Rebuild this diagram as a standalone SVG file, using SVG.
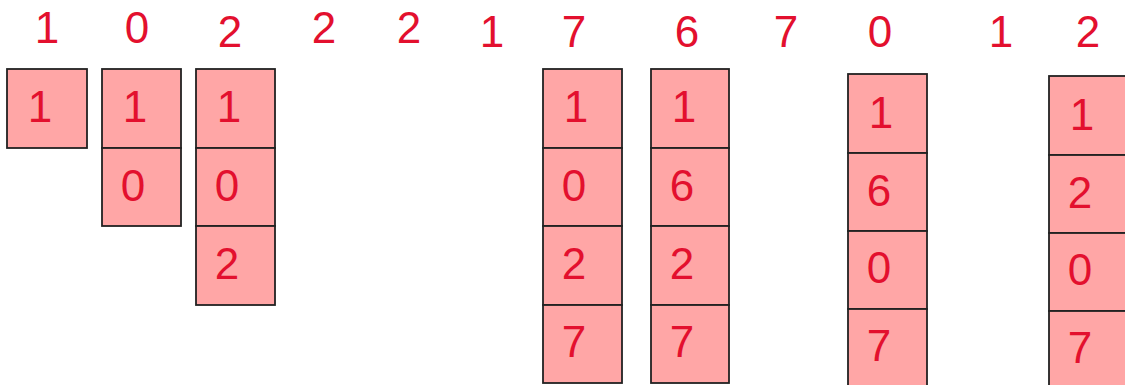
<svg xmlns="http://www.w3.org/2000/svg" width="1125" height="385" viewBox="0 0 1125 385">
<style>
.c{fill:#ffa6a6;stroke:#222222;stroke-width:1.8}
.t{font-family:"Liberation Sans",Arial,sans-serif;font-size:44px;fill:#e3102e;text-anchor:middle}
</style>
<rect width="1125" height="385" fill="#ffffff"/>
<g id="labels" class="t">
<text x="47" y="43">1</text>
<text x="137" y="43">0</text>
<text x="230" y="47">2</text>
<text x="324" y="43">2</text>
<text x="409" y="43">2</text>
<text x="492" y="47">1</text>
<text x="574" y="47">7</text>
<text x="687" y="47">6</text>
<text x="786" y="47">7</text>
<text x="880" y="47">0</text>
<text x="1001" y="47">1</text>
<text x="1088" y="47">2</text>
</g>
<g id="colA">
<g id="A1"><rect class="c" x="7" y="69" width="80" height="79"/><text class="t" x="40" y="122">1</text></g>
</g>
<g id="colB">
<g id="B1"><rect class="c" x="102" y="69" width="79" height="79"/><text class="t" x="135" y="122">1</text></g>
<g id="B2"><rect class="c" x="102" y="148" width="79" height="78"/><text class="t" x="133" y="201">0</text></g>
</g>
<g id="colC">
<g id="C1"><rect class="c" x="196" y="69" width="79" height="79"/><text class="t" x="229" y="122">1</text></g>
<g id="C2"><rect class="c" x="196" y="148" width="79" height="78"/><text class="t" x="227" y="201">0</text></g>
<g id="C3"><rect class="c" x="196" y="226" width="79" height="79"/><text class="t" x="227" y="279">2</text></g>
</g>
<g id="colD">
<g id="D1"><rect class="c" x="543" y="69" width="79" height="79"/><text class="t" x="576" y="122">1</text></g>
<g id="D2"><rect class="c" x="543" y="148" width="79" height="78"/><text class="t" x="574" y="201">0</text></g>
<g id="D3"><rect class="c" x="543" y="226" width="79" height="79"/><text class="t" x="574" y="279">2</text></g>
<g id="D4"><rect class="c" x="543" y="305" width="79" height="78"/><text class="t" x="574" y="357">7</text></g>
</g>
<g id="colE">
<g id="E1"><rect class="c" x="651" y="69" width="78" height="79"/><text class="t" x="684" y="122">1</text></g>
<g id="E2"><rect class="c" x="651" y="148" width="78" height="78"/><text class="t" x="682" y="201">6</text></g>
<g id="E3"><rect class="c" x="651" y="226" width="78" height="79"/><text class="t" x="682" y="279">2</text></g>
<g id="E4"><rect class="c" x="651" y="305" width="78" height="78"/><text class="t" x="682" y="357">7</text></g>
</g>
<g id="colF">
<g id="F1"><rect class="c" x="848" y="74" width="79" height="79"/><text class="t" x="881" y="128">1</text></g>
<g id="F2"><rect class="c" x="848" y="153" width="79" height="78"/><text class="t" x="879" y="206">6</text></g>
<g id="F3"><rect class="c" x="848" y="231" width="79" height="78"/><text class="t" x="879" y="283">0</text></g>
<g id="F4"><rect class="c" x="848" y="309" width="79" height="78"/><text class="t" x="879" y="361">7</text></g>
</g>
<g id="colG">
<g id="G1"><rect class="c" x="1049" y="76" width="80" height="79"/><text class="t" x="1082" y="130">1</text></g>
<g id="G2"><rect class="c" x="1049" y="155" width="80" height="78"/><text class="t" x="1080" y="208">2</text></g>
<g id="G3"><rect class="c" x="1049" y="233" width="80" height="78"/><text class="t" x="1080" y="285">0</text></g>
<g id="G4"><rect class="c" x="1049" y="311" width="80" height="78"/><text class="t" x="1080" y="363">7</text></g>
</g>
</svg>
